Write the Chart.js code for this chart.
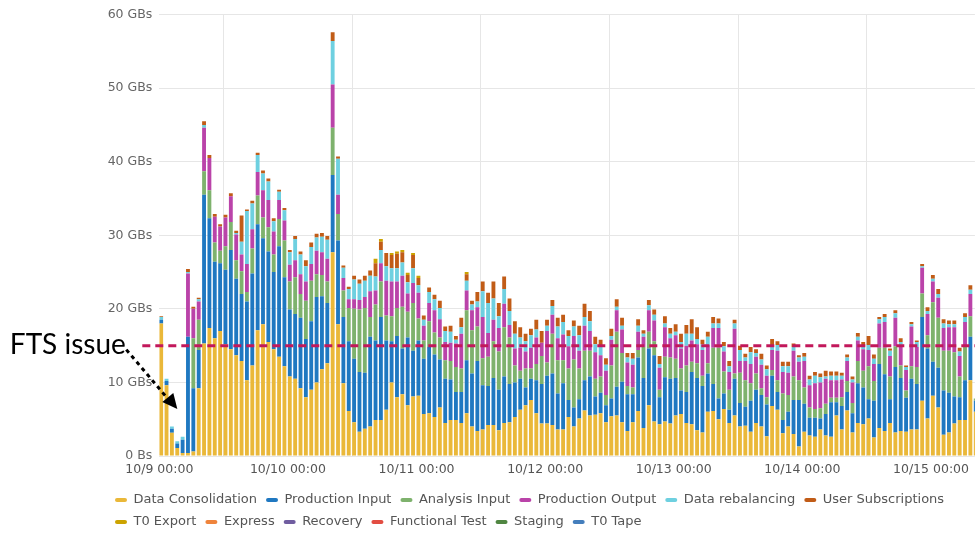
<!DOCTYPE html>
<html>
<head>
<meta charset="utf-8">
<script src="https://cdn.jsdelivr.net/npm/chart.js@4.4.1/dist/chart.umd.min.js"></script>
<style>
html,body{margin:0;padding:0;background:#fff;}
#wrap{position:relative;width:975px;height:533px;}
</style>
</head>
<body>
<div id="wrap"><canvas id="c" width="975" height="533"></canvas></div>
<script>
// ---- axis / category data ----
const dayTicks = [0, 24, 48, 72, 96, 120, 144];           // hour index of each day tick
const dayLabels = ['10/9 00:00','10/10 00:00','10/11 00:00','10/12 00:00','10/13 00:00','10/14 00:00','10/15 00:00'];
const yTicks = [0, 10, 20, 30, 40, 50, 60];
const yTickLabels = ['0 Bs','10 GBs','20 GBs','30 GBs','40 GBs','50 GBs','60 GBs'];
const ftsThreshold = 15;   // GB/s, dashed reference line

// ---- series values (GB/s per hourly bar, 10/9 00:00 onwards) ----
const dataConsolidation = [
18.0,9.6,3.15,1.1,0.4,0.4,0.6,9.2,15.3,17.4,
16.0,17.0,15.2,14.5,13.7,12.9,10.3,12.3,17.1,17.9,
15.5,14.5,13.5,12.2,10.8,10.5,9.2,8.0,9.0,10.0,
11.8,12.6,27.7,17.9,9.9,6.1,4.6,3.3,3.7,4.0,
4.9,4.9,6.3,10.0,8.0,8.4,6.9,8.1,8.2,5.7,
5.8,5.3,6.6,4.5,4.9,4.9,4.5,5.8,4.0,3.4,
3.6,4.2,4.2,3.5,4.5,4.6,5.3,6.3,6.9,7.6,
5.8,4.4,4.4,4.2,3.6,3.6,5.3,4.0,5.1,6.2,
5.5,5.6,5.8,4.6,5.4,5.5,4.6,3.4,4.6,6.1,
3.8,6.9,4.7,4.3,4.7,4.4,5.5,5.7,4.5,4.3,
3.5,3.2,6.0,6.1,5.0,6.4,4.5,5.5,4.0,4.1,
3.3,4.5,4.0,2.7,6.8,6.3,3.1,4.0,3.0,1.3,
3.3,2.8,2.6,3.6,2.8,2.6,5.5,3.6,6.2,3.2,
4.5,4.3,5.1,2.5,3.8,3.4,4.5,3.2,3.4,3.3,
3.6,3.6,7.5,5.1,8.2,6.6,2.9,3.2,4.4,4.9,
4.9,10.3,6.0];
const productionInput = [
0.5,0.6,0.55,0.6,1.8,15.8,8.6,5.2,20.2,14.9,
10.4,9.2,10.1,13.5,10.4,9.1,10.7,12.5,14.4,11.7,
12.3,10.5,15.0,12.1,9.1,8.8,9.6,7.9,9.3,11.6,
9.9,8.2,10.5,11.4,9.0,9.5,8.6,8.1,7.6,12.2,
10.8,14.0,9.4,5.6,8.3,6.2,9.2,6.2,7.5,7.5,
9.0,8.5,6.5,6.0,5.5,3.8,4.2,7.2,7.2,9.5,
6.0,5.3,6.4,5.5,6.3,5.2,4.7,4.2,2.4,2.9,
4.5,5.4,6.5,7.0,4.9,6.3,2.3,2.6,2.6,4.1,
5.3,2.5,2.8,2.3,2.4,3.9,5.5,5.0,3.8,7.3,
6.8,7.7,9.0,3.7,6.0,6.1,5.1,3.2,4.2,7.1,
7.1,6.3,5.2,3.7,2.8,2.1,1.8,5.0,3.2,2.6,
4.2,4.5,4.3,4.3,4.1,2.4,1.8,2.0,4.6,6.3,
3.8,2.4,2.6,1.5,2.9,4.7,1.8,3.2,2.5,2.6,
5.4,5.0,2.6,5.0,8.7,7.7,3.2,8.9,7.2,4.6,
6.9,6.2,11.4,9.5,4.6,5.4,6.0,5.4,3.7,3.1,
5.4,5.9,1.5];
const analysisInput = [
0,0,0,0,0,0,6.8,4.1,3.2,3.8,
2.6,1.7,3.2,3.8,2.5,3.1,1.3,3.4,3.9,2.8,
3.3,2.4,3.7,5.0,3.8,5.0,3.2,5.2,5.5,3.1,
2.9,2.9,6.4,3.6,3.6,4.5,6.8,8.5,8.8,2.7,
4.9,4.8,3.4,3.4,3.8,5.7,3.5,6.5,3.0,2.5,
3.5,3.0,3.0,2.5,2.5,3.4,3.2,6.8,5.9,4.7,
3.7,4.0,5.0,5.2,6.7,6.3,2.3,1.1,2.6,1.4,
2.2,3.8,1.8,5.4,4.5,3.1,4.3,6.5,4.2,4.0,
3.5,2.4,2.2,1.4,4.5,7.5,3.9,1.1,0.9,1.0,
4.2,2.3,1.9,1.0,2.8,2.9,2.6,3.0,3.6,1.4,
2.0,1.4,1.4,4.9,6.9,3.0,2.7,0.7,4.1,3.6,
2.4,2.2,0.9,1.0,0.8,1.6,3.6,2.3,3.2,2.7,
2.2,1.4,1.2,1.4,1.4,0.6,0.6,1.2,1.5,1.4,
3.0,2.3,4.5,2.7,2.2,3.6,3.1,2.8,1.7,1.0,
1.7,2.3,3.2,1.8,8.1,6.8,5.4,5.7,6.0,2.8,
4.5,2.8,0.3];
const productionOutput = [
0,0,0,0,0,8.6,4.0,2.5,5.9,4.4,
3.5,3.3,3.9,3.5,3.5,2.3,3.8,2.6,3.2,3.7,
3.7,3.1,2.6,2.7,2.3,2.3,2.7,2.6,2.3,3.2,
3.1,3.1,5.9,2.6,1.7,1.2,1.3,1.3,1.5,3.5,
1.9,2.5,4.7,4.7,3.6,4.2,2.5,2.7,3.5,2.0,
2.5,3.0,2.5,2.5,2.5,3.2,4.7,2.7,2.7,2.6,
5.6,3.2,2.9,3.2,3.2,1.7,2.3,3.1,2.3,2.8,
3.6,1.8,4.3,2.6,3.0,3.5,3.0,3.2,2.4,3.4,
2.7,3.6,2.9,3.3,3.5,2.9,3.2,3.2,3.1,2.5,
1.4,2.9,2.8,3.0,4.0,2.6,3.2,2.7,2.7,2.9,
2.6,3.5,2.5,2.7,2.7,2.7,2.4,6.1,1.6,2.6,
2.6,2.3,3.2,2.9,2.7,4.0,2.9,3.0,3.5,2.5,
3.6,3.0,3.5,3.5,3.4,2.4,2.4,2.4,2.7,2.8,
2.8,2.9,2.2,2.3,3.3,3.5,2.8,3.9,2.6,2.8,
5.4,2.7,3.5,2.9,2.8,2.7,3.1,3.2,3.4,2.8,
3.4,3.0,0];
const dataRebalancing = [
0.4,0.3,0.3,0.3,0.4,0.2,0,0.3,0.4,0,
0,0,0,0,0.2,1.7,7.2,3.5,2.3,2.3,
2.5,1.4,1.1,1.4,1.7,2.9,2.7,2.1,2.3,1.8,
2.1,2.6,5.9,4.9,1.4,1.4,2.7,2.2,2.2,2.1,
1.9,1.8,2.0,1.8,1.8,1.8,1.5,2.0,1.0,0.8,
1.5,1.5,1.5,1.5,1.5,0.5,0.9,1.3,0.8,0.8,
3.5,4.1,2.9,1.6,2.0,1.9,2.0,1.4,1.4,1.7,
1.1,0,0.7,1.2,1.6,1.7,1.4,1.3,2.1,1.2,
1.3,1.1,1.2,0.8,0.5,0.5,0.5,0.7,0.8,0.8,
0.4,0.7,0.8,0.5,0.5,0.6,0.5,0.9,1.6,0.9,
0.7,0.8,1.1,0.6,0.6,0.7,0.8,0.7,1.5,0.5,
1.6,0.5,0.7,0.9,0.7,0.8,0.8,0.9,0.5,0.6,
0.6,0.8,1.0,0.7,0.3,0.6,0.6,0.5,0.5,0.4,
0.5,0.5,0.7,0.7,0.6,0.7,0.7,0.6,0.6,0.4,
0.3,0.7,0.2,0.4,0.4,0.5,0.6,0.4,0.4,0.6,
0.7,0.6,0];
const userSubscriptions = [
0.1,0,0,0,0,0.4,0.3,0.2,0.5,0.4,
0.4,0.3,0.4,0.4,0.3,3.6,0.2,0.4,0.3,0.4,
0.4,0.4,0.3,0.3,0.3,0.4,0.4,0.8,0.6,0.5,
0.5,0.5,1.2,0.3,0.3,0.3,0.5,0.6,0.7,0.7,
1.8,1.1,1.8,1.8,2.0,1.4,1.0,1.8,1.0,0.6,
0.6,0.6,1.0,0.6,0.8,0.5,1.3,0.9,0.5,1.3,
1.3,1.4,2.3,1.8,1.7,1.7,1.7,1.4,1.0,0.9,
1.3,1.6,0.8,0.8,1.2,1.0,0.8,0.8,1.3,1.8,
1.4,1.0,0.9,0.9,1.0,1.0,1.1,0.6,0.8,0.9,
0.5,0.7,0.7,1.1,1.0,0.8,1.0,1.1,1.2,2.0,
1.6,0.6,0.7,0.9,0.7,0.6,0.7,0.5,0.6,0.5,
0.7,0.5,0.8,0.5,0.8,0.5,0.6,0.6,0.5,0.3,
0.5,0.5,0.5,0.5,0.8,0.6,0.6,0.4,0.4,0.4,
0.5,0.5,1.2,0.6,0.3,0.4,0.3,0.4,0.5,0.2,
0.3,0.2,0.3,0.5,0.5,0.7,0.6,0.5,0.5,0.5,
0.5,0.6,0];
const t0Export = [
0,0,0,0,0,0,0,0,0,0,
0,0,0,0,0,0,0,0,0,0,
0,0,0,0,0,0,0,0,0,0,
0,0,0,0,0,0,0,0,0,0,
0.6,0.4,0,0.3,0.3,0.3,0.3,0.3,0.3,0,
0,0,0,0,0,0,0,0.3,0,0,
0,0,0,0,0,0,0,0,0,0,
0,0,0,0,0,0,0,0,0,0,
0,0,0,0,0,0,0,0,0,0,
0,0,0,0,0,0,0,0,0,0,
0,0,0,0,0,0,0,0,0,0,
0,0,0,0,0,0,0,0,0,0,
0,0,0,0,0,0,0,0,0,0,
0,0,0,0,0,0,0,0,0,0,
0,0,0,0,0,0,0,0,0,0,
0,0,0];
const express = [];
const recovery = [];
const functionalTest = [];
const staging = [];
const t0Tape = [];

const seriesNames = ['Data Consolidation','Production Input','Analysis Input','Production Output','Data rebalancing','User Subscriptions','T0 Export','Express','Recovery','Functional Test','Staging','T0 Tape'];
const seriesValues = [dataConsolidation, productionInput, analysisInput, productionOutput, dataRebalancing, userSubscriptions, t0Export, express, recovery, functionalTest, staging, t0Tape];
const seriesColors = ['#EAB839','#1F78C1','#7EB26D','#BA43A9','#6ED0E0','#C15C17','#CCA300','#EF843C','#705DA0','#E24D42','#508642','#447EBC'];

const barOffset = 0.35;   // bar centre position inside its hour slot
const datasets = seriesNames.map((name, s) => ({
  label: name,
  data: seriesValues[s].map((v, i) => ({x: i + barOffset, y: v})),
  backgroundColor: seriesColors[s],
  borderWidth: 0,
  barPercentage: 1.0,
  categoryPercentage: 0.72
}));

const annotationPlugin = {
  id: 'ftsAnnotation',
  afterDatasetsDraw(chart) {
    const {ctx, chartArea, scales} = chart;
    const yl = scales.y.getPixelForValue(ftsThreshold);
    ctx.save();
    // dashed threshold line
    ctx.strokeStyle = '#c2185b';
    ctx.lineWidth = 3;
    ctx.setLineDash([8, 5]);
    ctx.beginPath();
    ctx.moveTo(chartArea.left - 17, yl);
    ctx.lineTo(chartArea.right, yl);
    ctx.stroke();
    // label
    ctx.setLineDash([]);
    ctx.fillStyle = '#000';
    ctx.font = '28px Lato';
    ctx.textBaseline = 'alphabetic';
    ctx.textAlign = 'left';
    ctx.fillText('FTS issue', chartArea.left - 149.5, yl + 8);
    // dashed arrow
    const x0 = chartArea.left - 33, y0 = yl + 4;
    const tipX = chartArea.left + 18, tipY = scales.y.getPixelForValue(6.4);
    ctx.strokeStyle = '#000';
    ctx.lineWidth = 3;
    ctx.setLineDash([4, 4]);
    ctx.beginPath();
    ctx.moveTo(x0, y0);
    ctx.lineTo(tipX - 11, tipY - 12);
    ctx.stroke();
    ctx.setLineDash([]);
    ctx.beginPath();
    ctx.moveTo(tipX, tipY);
    ctx.lineTo(tipX - 15, tipY - 7);
    ctx.lineTo(tipX - 4, tipY - 16);
    ctx.closePath();
    ctx.fill();
    ctx.restore();
  }
};

Chart.defaults.font.family = "'DejaVu Sans', sans-serif";

new Chart(document.getElementById('c'), {
  type: 'bar',
  data: {datasets},
  plugins: [annotationPlugin],
  options: {
    responsive: false,
    animation: false,
    events: [],
    layout: {padding: {left: 106, right: 0, top: 12, bottom: -5.4}},
    plugins: {
      tooltip: {enabled: false},
      legend: {
        position: 'bottom',
        align: 'start',
        labels: {
          boxWidth: 12,
          boxHeight: 4,
          useBorderRadius: true,
          borderRadius: 2,
          padding: 9,
          color: '#555',
          font: {size: 13}
        }
      }
    },
    scales: {
      x: {
        type: 'linear',
        stacked: true,
        min: 0,
        max: 152.2,
        offset: false,
        afterBuildTicks: (s) => { s.ticks = dayTicks.map(v => ({value: v})); },
        afterFit: (s) => { s.height = 28.4; },
        ticks: {
          autoSkip: false,
          maxRotation: 0,
          padding: 6,
          color: '#555',
          font: {size: 12.5},
          callback: (v, i) => dayLabels[i]
        },
        grid: {color: '#e6e6e6', drawTicks: false},
        border: {display: false}
      },
      y: {
        stacked: true,
        min: 0,
        max: 60,
        afterBuildTicks: (s) => { s.ticks = yTicks.map(v => ({value: v})); },
        afterFit: (s) => { s.width = 53.3; },
        ticks: {
          padding: 7,
          color: '#666',
          font: {size: 12.5},
          callback: (v, i) => yTickLabels[i]
        },
        grid: {color: '#e6e6e6', drawTicks: false},
        border: {display: false}
      }
    }
  }
});
</script>
</body>
</html>
